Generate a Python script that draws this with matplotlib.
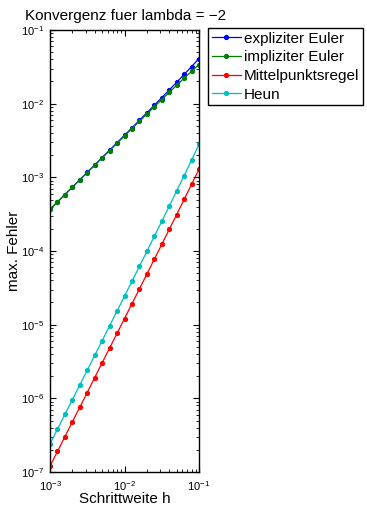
import numpy as np
import matplotlib
matplotlib.use("Agg")
import matplotlib.pyplot as plt

plt.rcParams['font.family'] = ['Liberation Sans', 'DejaVu Sans']
plt.rcParams['mathtext.fontset'] = 'custom'
plt.rcParams['mathtext.rm'] = 'Liberation Sans'
plt.rcParams['mathtext.it'] = 'Liberation Sans'
plt.rcParams['font.size'] = 9

# Schrittweiten h = 10^(-3:0.1:-1)
h = [1.000e-3, 1.259e-3, 1.585e-3, 1.995e-3, 2.512e-3, 3.162e-3, 3.981e-3,
     5.012e-3, 6.310e-3, 7.943e-3, 1.000e-2, 1.259e-2, 1.585e-2, 1.995e-2,
     2.512e-2, 3.162e-2, 3.981e-2, 5.012e-2, 6.310e-2, 7.943e-2, 1.000e-1]

err_expl = [3.68e-4, 4.64e-4, 5.84e-4, 7.35e-4, 9.25e-4, 1.168e-3, 1.472e-3,
            1.855e-3, 2.339e-3, 2.949e-3, 3.72e-3, 4.70e-3, 5.94e-3, 7.51e-3,
            9.51e-3, 1.206e-2, 1.532e-2, 1.950e-2, 2.489e-2, 3.188e-2, 4.10e-2]
err_impl = [3.68e-4, 4.63e-4, 5.83e-4, 7.34e-4, 9.22e-4, 1.161e-3, 1.461e-3,
            1.837e-3, 2.311e-3, 2.906e-3, 3.65e-3, 4.59e-3, 5.76e-3, 7.23e-3,
            9.07e-3, 1.136e-2, 1.421e-2, 1.774e-2, 2.211e-2, 2.747e-2, 3.40e-2]
err_mitt = [1.20e-7, 1.90e-7, 3.02e-7, 4.79e-7, 7.59e-7, 1.20e-6, 1.91e-6,
            3.03e-6, 4.81e-6, 7.62e-6, 1.21e-5, 1.92e-5, 3.05e-5, 4.85e-5,
            7.71e-5, 1.228e-4, 1.96e-4, 3.12e-4, 5.01e-4, 8.02e-4, 1.29e-3]
err_heun = [2.40e-7, 3.81e-7, 6.05e-7, 9.58e-7, 1.520e-6, 2.41e-6, 3.83e-6,
            6.08e-6, 9.65e-6, 1.534e-5, 2.44e-5, 3.88e-5, 6.19e-5, 9.87e-5,
            1.578e-4, 2.53e-4, 4.05e-4, 6.53e-4, 1.056e-3, 1.715e-3, 2.80e-3]

names = ["expliziter Euler", "impliziter Euler", "Mittelpunktsregel", "Heun"]
colors = [(0, 0, 1), (0, 0.5, 0), (1, 0, 0), (0, 0.75, 0.75)]

W, H = 367, 509
fig = plt.figure(figsize=(W / 100, H / 100), dpi=100)
ax = fig.add_axes([50 / W, 1 - 472 / H, 149 / W, 442 / H])

for y, name, c in zip([err_expl, err_impl, err_mitt, err_heun], names, colors):
    ax.loglog(h, y, '.-', color=c, label=name, linewidth=0.9, markersize=5.5)

ax.set_xlim(1e-3, 1e-1)
ax.set_ylim(1e-7, 1e-1)
ax.tick_params(which='both', direction='in', top=True, right=True, labelsize=8)
ax.tick_params(which='major', length=4)
ax.tick_params(which='minor', length=2)
ax.tick_params(axis='x', pad=5.5)
ax.tick_params(axis='y', pad=4)
ax.xaxis.offsetText.set_visible(False)
ax.yaxis.offsetText.set_visible(False)
for s in ax.spines.values():
    s.set_linewidth(1.0)

ax.set_title("Konvergenz fuer lambda = \u22122", fontsize=11, loc='left',
             x=(25 - 50) / 149, pad=7)
ax.set_xlabel("Schrittweite h", fontsize=11, va='baseline')
ax.xaxis.set_label_coords(0.5, (472 - 503) / 442)
ax.set_ylabel("max. Fehler", fontsize=11, va='center')
ax.yaxis.set_label_coords((14 - 50) / 149, 0.5)

leg = ax.legend(loc='upper left', bbox_to_anchor=(208 / W, 1 - 28 / H),
                bbox_transform=fig.transFigure, fancybox=False, framealpha=1,
                edgecolor='black', borderpad=0.25, labelspacing=0.3,
                handlelength=1.9, handletextpad=0.2, borderaxespad=0, fontsize=11)
leg.get_frame().set_linewidth(1.0)

fig.savefig("out.png", dpi=100)
